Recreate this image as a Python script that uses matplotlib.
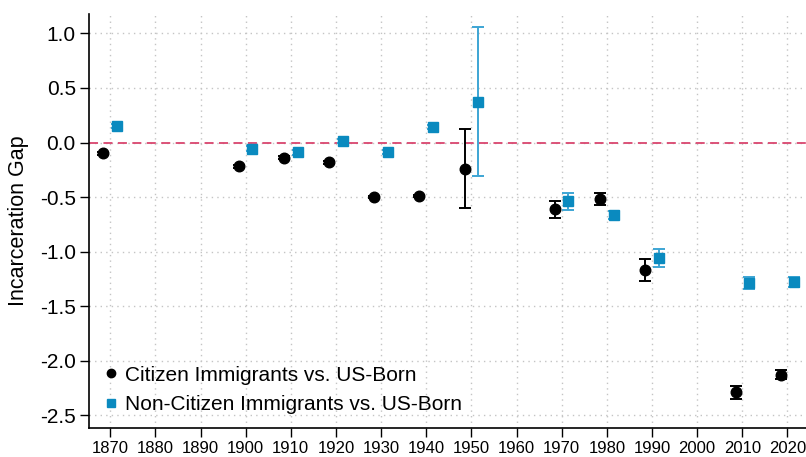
import numpy as np
import matplotlib
matplotlib.use("Agg")
import matplotlib.pyplot as plt

plt.rcParams['font.family'] = ['Liberation Sans', 'DejaVu Sans']

# census years
years_cit = [1870, 1900, 1910, 1920, 1930, 1940, 1950, 1970, 1980, 1990, 2010, 2020]
gap_cit = [-0.10, -0.22, -0.14, -0.18, -0.50, -0.49, -0.24, -0.61, -0.52, -1.17, -2.29, -2.13]
err_cit = [0.012, 0.015, 0.014, 0.013, 0.012, 0.012, 0.36, 0.078, 0.057, 0.10, 0.058, 0.042]

years_non = [1870, 1900, 1910, 1920, 1930, 1940, 1950, 1970, 1980, 1990, 2010, 2020]
gap_non = [0.15, -0.055, -0.09, 0.015, -0.09, 0.14, 0.376, -0.537, -0.665, -1.06, -1.29, -1.28]
err_non = [0.018, 0.02, 0.02, 0.018, 0.018, 0.02, 0.68, 0.078, 0.04, 0.08, 0.058, 0.046]

xticks = list(range(1870, 2021, 10))
yticks = [1.0, 0.5, 0.0, -0.5, -1.0, -1.5, -2.0, -2.5]

blue = '#0a8abf'
blue_err = '#3da5d4'
red = '#d9456e'

fig = plt.figure(figsize=(8.06, 4.57), dpi=100)
ax = fig.add_axes([0.1104, 0.064, 0.889, 0.905])

ax.axhline(0, color=red, lw=1.3, ls=(0, (5, 3)), zorder=2)

xc = np.array(years_cit) - 1.5
xn = np.array(years_non) + 1.5
ax.errorbar(xc, gap_cit, yerr=err_cit, fmt='o', color='black', ms=7.6,
            ecolor='black', elinewidth=1.4, capsize=4, capthick=1.4,
            label='Citizen Immigrants vs. US-Born', zorder=4)
ax.errorbar(xn, gap_non, yerr=err_non, fmt='s', color=blue, ms=7.4,
            ecolor=blue_err, elinewidth=1.4, capsize=4, capthick=1.4,
            label='Non-Citizen Immigrants vs. US-Born', zorder=4)

ax.set_xlim(1865.3, 2024)
ax.set_ylim(-2.616, 1.177)
ax.set_xticks(xticks)
ax.set_xticklabels([str(t) for t in xticks], fontsize=12)
ax.set_yticks(yticks)
ax.set_yticklabels(['%.1f' % t for t in yticks], fontsize=15)
ax.tick_params(axis='both', direction='out', length=6.5, width=1, color='black', pad=3)
ax.grid(True, ls=(0, (1, 3)), color='#c4c4c4', lw=1)
ax.set_axisbelow(True)

for s in ['top', 'right']:
    ax.spines[s].set_visible(False)
ax.spines['left'].set_linewidth(1.2)
ax.spines['bottom'].set_linewidth(1.2)

ax.set_ylabel('Incarceration Gap', fontsize=15.5, labelpad=8)

handles, labels = ax.get_legend_handles_labels()
h2 = [plt.Line2D([], [], marker='o', ls='', color='black', ms=6),
      plt.Line2D([], [], marker='s', ls='', color=blue, ms=6)]
ax.legend(h2, labels, loc='lower left', frameon=False, fontsize=15,
          handletextpad=0.2, handlelength=0.9, labelspacing=0.5,
          bbox_to_anchor=(-0.008, -0.012))

fig.savefig('out.png', dpi=100)
